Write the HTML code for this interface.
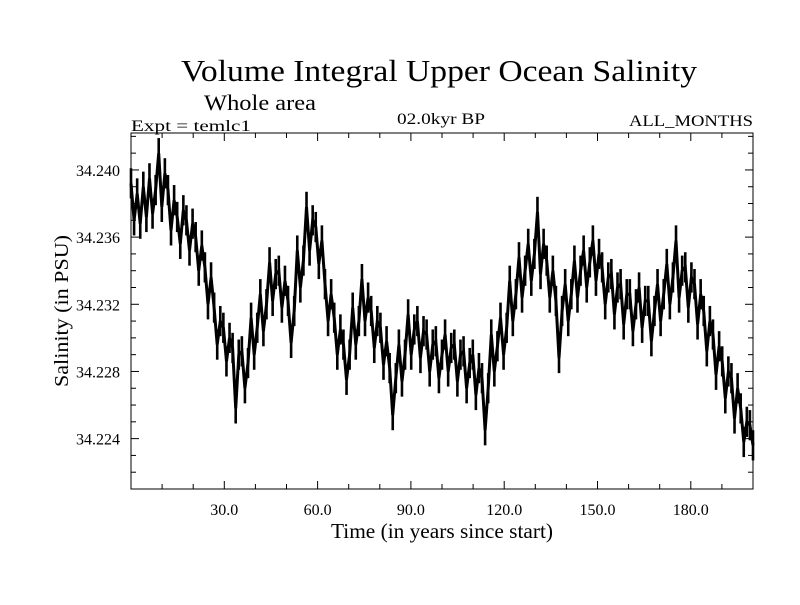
<!DOCTYPE html>
<html><head><meta charset="utf-8"><style>
body{margin:0;background:#fff}
svg text{font-family:"Liberation Serif",serif;fill:#000}
</style></head><body>
<svg id="chart" width="800" height="600" viewBox="0 0 800 600" xmlns="http://www.w3.org/2000/svg">
<rect width="800" height="600" fill="#fff"/>
<text x="439" y="81" font-size="31" text-anchor="middle" textLength="516" lengthAdjust="spacingAndGlyphs">Volume Integral Upper Ocean Salinity</text>
<text x="204" y="110" font-size="22" textLength="112" lengthAdjust="spacingAndGlyphs">Whole area</text>
<text x="131" y="131" font-size="16" textLength="120" lengthAdjust="spacingAndGlyphs">Expt = temlc1</text>
<text x="441" y="124" font-size="16" text-anchor="middle" textLength="88" lengthAdjust="spacingAndGlyphs">02.0kyr BP</text>
<text x="753" y="126" font-size="16" text-anchor="end" textLength="124" lengthAdjust="spacingAndGlyphs">ALL_MONTHS</text>
<g id="axes"></g>
<g id="spread"></g>
<polyline id="series" fill="none" stroke="#000" stroke-width="3" stroke-linejoin="miter"/>
<rect x="131" y="133" width="622" height="356" fill="none" stroke="#000" stroke-width="1"/>
<text x="442" y="538" font-size="21" text-anchor="middle" textLength="222" lengthAdjust="spacingAndGlyphs">Time (in years since start)</text>
<text transform="translate(68,311) rotate(-90)" font-size="20" text-anchor="middle" textLength="152" lengthAdjust="spacingAndGlyphs">Salinity (in PSU)</text>
</svg>
<script>
const xTicks=[30,60,90,120,150,180];
const xTickLabels=["30.0","60.0","90.0","120.0","150.0","180.0"];
const yTicks=[34.224,34.228,34.232,34.236,34.240];
const yTickLabels=["34.224","34.228","34.232","34.236","34.240"];
const salinity=[34.2392,34.2370,34.2386,34.2368,34.2390,34.2372,34.2395,34.2374,34.2388,34.2410,34.2378,34.2398,
34.2388,34.2364,34.2382,34.2372,34.2356,34.2376,34.2370,34.2352,34.2368,34.2360,34.2340,34.2355,
34.2342,34.2320,34.2336,34.2318,34.2296,34.2310,34.2306,34.2286,34.2300,34.2294,34.2258,34.2290,
34.2292,34.2270,34.2285,34.2312,34.2290,34.2306,34.2326,34.2304,34.2320,34.2345,34.2322,34.2338,
34.2340,34.2318,34.2334,34.2322,34.2297,34.2316,34.2352,34.2330,34.2346,34.2378,34.2352,34.2370,
34.2366,34.2344,34.2358,34.2332,34.2310,34.2326,34.2312,34.2290,34.2305,34.2296,34.2275,34.2290,
34.2318,34.2296,34.2310,34.2335,34.2310,34.2324,34.2316,34.2294,34.2310,34.2306,34.2284,34.2298,
34.2282,34.2254,34.2276,34.2296,34.2274,34.2290,34.2314,34.2290,34.2305,34.2310,34.2288,34.2304,
34.2302,34.2280,34.2296,34.2298,34.2276,34.2290,34.2302,34.2280,34.2294,34.2296,34.2274,34.2290,
34.2292,34.2270,34.2285,34.2290,34.2266,34.2282,34.2276,34.2245,34.2270,34.2302,34.2280,34.2295,
34.2312,34.2290,34.2306,34.2334,34.2310,34.2326,34.2348,34.2324,34.2340,34.2356,34.2334,34.2350,
34.2375,34.2338,34.2356,34.2346,34.2324,34.2340,34.2322,34.2288,34.2316,34.2332,34.2310,34.2326,
34.2346,34.2324,34.2340,34.2352,34.2330,34.2345,34.2358,34.2334,34.2350,34.2342,34.2320,34.2336,
34.2338,34.2314,34.2330,34.2332,34.2308,34.2326,34.2326,34.2304,34.2320,34.2330,34.2306,34.2322,
34.2322,34.2298,34.2316,34.2332,34.2310,34.2326,34.2344,34.2320,34.2336,34.2358,34.2324,34.2340,
34.2342,34.2318,34.2336,34.2332,34.2308,34.2326,34.2316,34.2292,34.2310,34.2302,34.2278,34.2295,
34.2286,34.2264,34.2280,34.2276,34.2252,34.2270,34.2258,34.2238,34.2250,34.2248,34.2236];
const monthlySpread=0.0009;
const X0=131,X1=753,Y0=489,Y1=133,XMIN=0,XMAX=200,YMIN=34.2210,YMAX=34.2422;
const sx=v=>X0+(v-XMIN)/(XMAX-XMIN)*(X1-X0);
const sy=v=>Y0-(v-YMIN)/(YMAX-YMIN)*(Y0-Y1);
const NS="http://www.w3.org/2000/svg";
const g=document.getElementById('axes');
function line(parent,x1,y1,x2,y2,w,name){const l=document.createElementNS(NS,'line');
l.setAttribute('x1',x1);l.setAttribute('y1',y1);l.setAttribute('x2',x2);l.setAttribute('y2',y2);
l.setAttribute('stroke','#000');l.setAttribute('stroke-width',w);


parent.appendChild(l);}
for(let v=10;v<200;v+=10){const x=sx(v),len=(v%30===0)?8:5;line(g,x,Y0,x,Y0-len,1,'x-tick');line(g,x,Y1,x,Y1+len,1,'x-tick');}
for(let k=0;k<21;k++){const v=34.222+k*0.001;if(v>YMAX)break;const y=sy(v);const major=Math.round(v*1000)%4===0;const len=major?8:5;line(g,X0,y,X0+len,y,1,'y-tick');line(g,X1,y,X1-len,y,1,'y-tick');}
xTicks.forEach((v,i)=>{const t=document.createElementNS(NS,'text');
t.setAttribute('x',sx(v));t.setAttribute('y',Y0+26);t.setAttribute('font-size','16');t.setAttribute('text-anchor','middle');


t.textContent=xTickLabels[i];g.appendChild(t);});
yTicks.forEach((v,i)=>{const t=document.createElementNS(NS,'text');
t.setAttribute('x',X0-11);t.setAttribute('y',sy(v)+6);t.setAttribute('font-size','16');t.setAttribute('text-anchor','end');


t.textContent=yTickLabels[i];g.appendChild(t);});
const n=salinity.length;
const sp=document.getElementById('spread');
salinity.forEach((v,i)=>{const x=sx(XMIN+i*(XMAX-XMIN)/(n-1));line(sp,x,sy(v-monthlySpread),x,sy(v+monthlySpread),2.6,'monthly-range');});
document.getElementById('series').setAttribute('points',salinity.map((v,i)=>sx(XMIN+i*(XMAX-XMIN)/(n-1)).toFixed(1)+','+sy(v).toFixed(1)).join(' '));
</script>
</body></html>
